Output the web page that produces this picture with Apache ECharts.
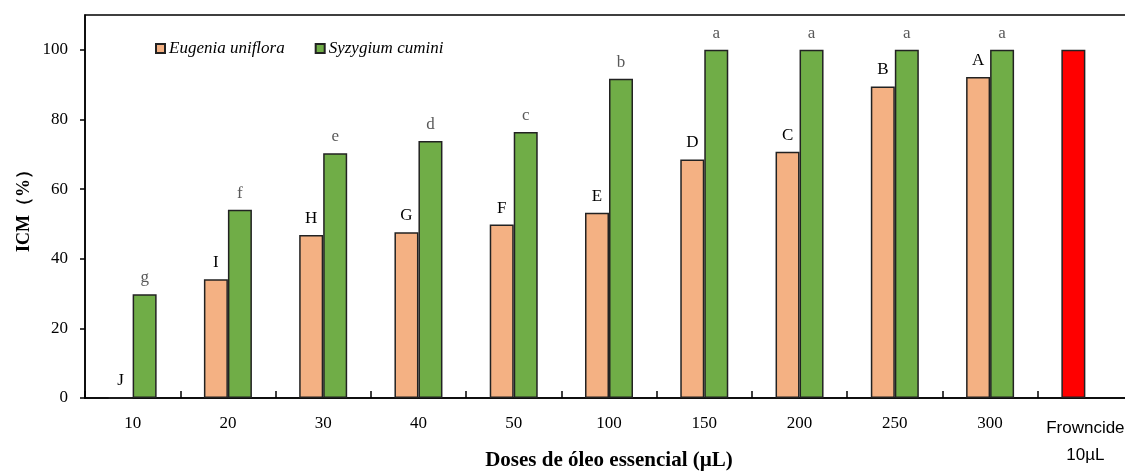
<!DOCTYPE html>
<html>
<head>
<meta charset="utf-8">
<script src="https://cdn.jsdelivr.net/npm/echarts@6/dist/echarts.min.js"></script>
<style>
  html, body { margin: 0; padding: 0; background: #fff; overflow: hidden; }
  #chart { width: 1135px; height: 475px; }
</style>
</head>
<body>
<div id="chart"></div>
<script>
// doses (last one is the commercial control)
var doses = ['10', '20', '30', '40', '50', '100', '150', '200', '250', '300', 'Frowncide'];

var eugenia = [0, 34.1, 46.8, 47.6, 49.8, 53.2, 68.5, 70.7, 89.5, 92.2, 100];
var syzygium = [29.8, 54.1, 70.3, 73.8, 76.4, 91.7, 100, 100, 100, 100, '-'];

// letters of the mean comparison test
var eugeniaLetters = ['J', 'I', 'H', 'G', 'F', 'E', 'D', 'C', 'B', 'A', ''];
var syzygiumLetters = ['g', 'f', 'e', 'd', 'c', 'b', 'a', 'a', 'a', 'a', ''];

var serif = '"Liberation Serif", "Times New Roman", serif';

var chart = echarts.init(document.getElementById('chart'));

var eugeniaData = eugenia.map(function (v, i) {
  if (i === doses.length - 1) {
    // control bar in red
    return { value: v, itemStyle: { color: '#FF0000' }, label: { show: false } };
  }
  return v;
});

chart.setOption({
  animation: false,
  grid: {
    left: 85, top: 15, right: 2, bottom: 77,
    outerBoundsMode: 'none',
    containLabel: false,
    show: true, borderColor: '#000', borderWidth: 1.5,
    backgroundColor: 'transparent'
  },
  legend: {
    left: 150, top: 35,
    itemWidth: 9, itemHeight: 9, itemGap: 30,
    icon: 'rect',
    textStyle: { fontFamily: serif, fontStyle: 'italic', fontSize: 17, color: '#000', padding: [0, 0, 0, -1] },
    data: ['Eugenia uniflora', 'Syzygium cumini']
  },
  xAxis: {
    type: 'category',
    data: doses,
    name: 'Doses de óleo essencial (µL)',
    nameLocation: 'middle',
    nameGap: 52,
    nameMoveOverlap: false,
    nameTextStyle: { fontFamily: serif, fontWeight: 'bold', fontSize: 21, color: '#000' },
    axisLine: { lineStyle: { color: '#000', width: 1.5 } },
    axisTick: { show: true, alignWithLabel: false, inside: true, length: 7, interval: 0, lineStyle: { color: '#000', width: 1.5 } },
    axisLabel: {
      margin: 17, interval: 0,
      fontFamily: serif, fontSize: 17, color: '#000',
      formatter: function (v) {
        if (v === 'Frowncide') return '{s|Frowncide}\n{s|10µL}';
        return v;
      },
      rich: {
        s: { fontFamily: '"Liberation Sans", Arial, sans-serif', fontSize: 17, lineHeight: 27, color: '#000' }
      }
    }
  },
  yAxis: {
    type: 'value',
    min: 0, max: 110, interval: 20,
    name: 'ICM（%）',
    nameLocation: 'middle',
    nameGap: 52,
    nameMoveOverlap: false,
    nameTextStyle: { fontFamily: serif, fontWeight: 'bold', fontSize: 18, color: '#000' },
    axisLine: { show: true, lineStyle: { color: '#000', width: 1.5 } },
    axisTick: { show: true, length: 5, lineStyle: { color: '#000', width: 1.5 } },
    splitLine: { show: false },
    axisLabel: {
      margin: 17, showMaxLabel: false,
      fontFamily: serif, fontSize: 17, color: '#000'
    }
  },
  series: [
    {
      name: 'Eugenia uniflora',
      type: 'bar',
      barWidth: 24,
      barGap: '0%',
      data: eugeniaData,
      itemStyle: { color: '#F4B183', borderColor: '#222', borderWidth: 1.5 },
      label: {
        show: true, position: 'top', distance: 8,
        fontFamily: serif, fontSize: 17, color: '#000',
        formatter: function (p) { return eugeniaLetters[p.dataIndex]; }
      }
    },
    {
      name: 'Syzygium cumini',
      type: 'bar',
      barWidth: 24,
      data: syzygium,
      itemStyle: { color: '#70AD47', borderColor: '#222', borderWidth: 1.5 },
      label: {
        show: true, position: 'top', distance: 8,
        fontFamily: serif, fontSize: 17, color: '#595959',
        formatter: function (p) { return syzygiumLetters[p.dataIndex]; }
      }
    }
  ]
});
</script>
</body>
</html>
